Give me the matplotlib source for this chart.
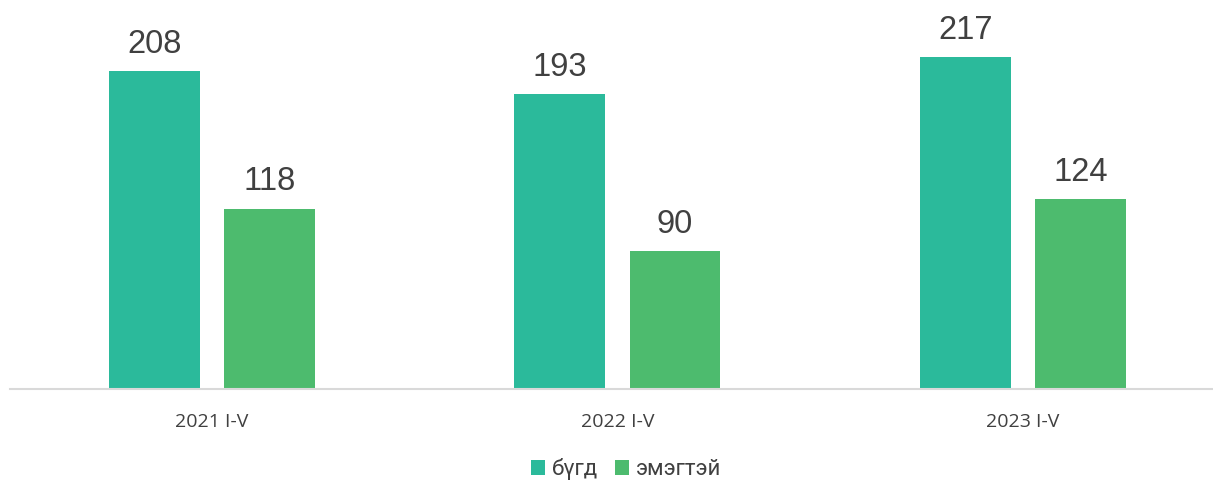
import numpy as np
import matplotlib.pyplot as plt

# Data
categories = ["2021 I-V", "2022 I-V", "2023 I-V"]
bugd = [208, 193, 217]
emegtei = [118, 90, 124]
series_names = ["бүгд", "эмэгтэй"]

colors = ["#2BBA9B", "#4DBB6E"]
label_color = "#404040"

fig = plt.figure(figsize=(12.13, 4.8), dpi=100)
ax = fig.add_axes([10 / 1213, 91 / 480, 1203 / 1213, 389 / 480])

x = np.arange(len(categories))
width = 0.224
offset = 0.142

b1 = ax.bar(x - offset, bugd, width, color=colors[0], label=series_names[0])
b2 = ax.bar(x + offset, emegtei, width, color=colors[1], label=series_names[1])

for bars in (b1, b2):
    ax.bar_label(bars, padding=8, fontsize=23.5, color=label_color,
                 family="Liberation Sans")

ax.set_xlim(-0.498, 2.469)
ax.set_ylim(0, 254.4)

ax.set_xticks(x)
ax.set_xticklabels(categories, fontsize=14, color=label_color, family="Open Sans")
ax.tick_params(axis="x", length=0, pad=17)
ax.set_yticks([])

for side in ("top", "right", "left"):
    ax.spines[side].set_visible(False)
ax.spines["bottom"].set_color("#D9D9D9")
ax.spines["bottom"].set_linewidth(1.5)

fig.legend(loc="center", bbox_to_anchor=(626 / 1213, 1 - 469 / 480),
           ncol=2, frameon=False, handlelength=0.65, handleheight=0.65,
           handletextpad=0.3, columnspacing=0.75,
           prop={"family": "Roboto", "size": 16}, labelcolor=label_color)

fig.savefig("out.png", dpi=100)
